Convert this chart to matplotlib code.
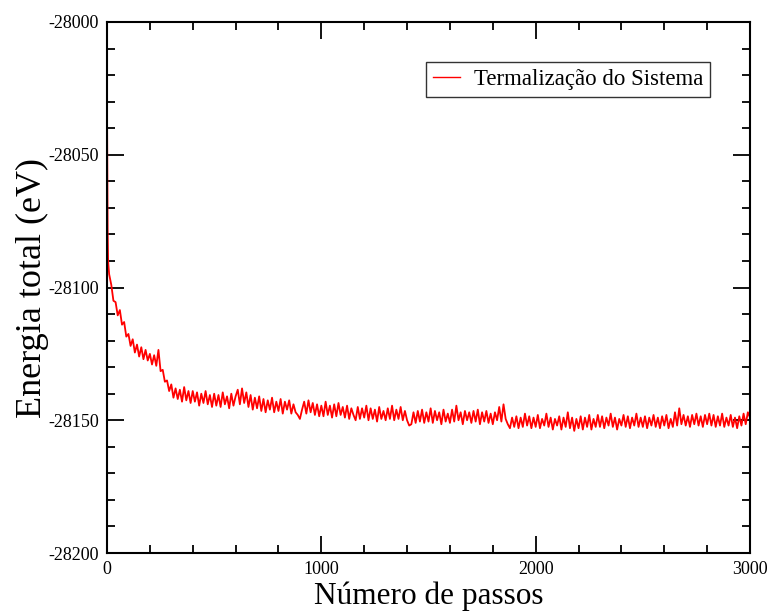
import matplotlib
matplotlib.use("Agg")
import matplotlib.pyplot as plt
import numpy as np

# ── Data ─────────────────────────────────────────────────────────────────────
# first steps: steep drop from the initial energy
passos_ini = [0, 1, 2, 3, 4, 5, 6, 8]
energia_ini = [-28032.0, -28050.0, -28066.0, -28078.0, -28085.0, -28089.0, -28091.0, -28093.0]

# afterwards one value every 10 steps (10 ... 3000)
passo_intervalo = 10
energia_resto = [
    -28095.0, -28099.0, -28105.0, -28105.5, -28110.5, -28108.5, -28114.0, -28113.0, -28118.5,
    -28117.5, -28122.0, -28119.5, -28124.5, -28121.5, -28126.0, -28122.5, -28127.0, -28123.5, -28127.5,
    -28125.0, -28129.0, -28125.5, -28129.5, -28123.5, -28131.5, -28131.0, -28135.5, -28135.0, -28139.0,
    -28136.5, -28141.5, -28138.0, -28142.0, -28138.5, -28143.0, -28137.5, -28142.5, -28139.0, -28143.5,
    -28139.0, -28143.0, -28139.5, -28144.5, -28140.0, -28143.5, -28139.0, -28144.0, -28140.5, -28145.0,
    -28140.0, -28144.5, -28140.5, -28145.0, -28139.5, -28144.0, -28141.0, -28145.5, -28140.0, -28144.5,
    -28141.0, -28138.5, -28144.0, -28138.0, -28143.5, -28139.5, -28145.0, -28140.5, -28146.0, -28141.5,
    -28145.5, -28141.0, -28146.5, -28142.0, -28147.0, -28142.5, -28146.0, -28141.5, -28147.0, -28143.0,
    -28146.5, -28142.0, -28147.5, -28143.0, -28146.0, -28142.5, -28147.5, -28144.0, -28147.0, -28148.0,
    -28149.5, -28146.0, -28143.0, -28147.5, -28142.5, -28147.0, -28143.5, -28148.0, -28144.0, -28148.5,
    -28144.5, -28148.5, -28143.0, -28148.0, -28144.5, -28149.0, -28144.0, -28148.5, -28143.5, -28148.0,
    -28145.0, -28149.0, -28144.5, -28149.5, -28145.5, -28148.0, -28150.0, -28145.0, -28149.5, -28145.5,
    -28149.0, -28144.5, -28150.0, -28145.5, -28149.5, -28146.0, -28150.5, -28145.0, -28149.5, -28146.5,
    -28150.0, -28145.5, -28149.5, -28144.5, -28150.0, -28146.0, -28149.5, -28145.0, -28150.0, -28146.5,
    -28150.0, -28152.0, -28151.5, -28147.0, -28151.0, -28146.5, -28150.5, -28146.0, -28151.0, -28147.0,
    -28150.5, -28145.5, -28151.0, -28146.5, -28150.0, -28147.0, -28151.5, -28146.0, -28150.5, -28147.5,
    -28151.0, -28146.0, -28150.5, -28144.5, -28150.0, -28147.0, -28151.5, -28146.5, -28150.0, -28147.0,
    -28151.0, -28146.5, -28150.5, -28146.0, -28151.5, -28147.0, -28150.5, -28146.5, -28151.0, -28147.5,
    -28151.5, -28147.0, -28150.0, -28145.0, -28150.5, -28144.0, -28149.5, -28151.5, -28153.0, -28149.0,
    -28152.5, -28148.5, -28153.0, -28149.0, -28152.5, -28147.5, -28152.0, -28148.5, -28153.0, -28149.0,
    -28152.5, -28148.0, -28153.0, -28149.5, -28152.0, -28147.5, -28152.5, -28149.0, -28153.5, -28149.5,
    -28152.0, -28148.5, -28153.5, -28149.0, -28152.5, -28147.0, -28153.0, -28149.0, -28154.0, -28149.5,
    -28153.0, -28148.5, -28153.5, -28149.0, -28152.5, -28148.0, -28153.5, -28149.5, -28152.5, -28148.0,
    -28152.5, -28148.5, -28153.0, -28149.0, -28152.0, -28147.5, -28152.5, -28149.0, -28153.5, -28149.5,
    -28152.0, -28148.0, -28152.5, -28148.5, -28153.0, -28149.0, -28152.0, -28147.5, -28152.5, -28149.0,
    -28152.5, -28148.5, -28153.0, -28149.0, -28152.0, -28148.0, -28152.5, -28149.0, -28153.0, -28148.5,
    -28152.0, -28148.0, -28153.0, -28149.5, -28152.5, -28147.0, -28152.0, -28145.5, -28151.5, -28148.0,
    -28152.0, -28148.5, -28152.5, -28148.0, -28151.5, -28147.5, -28152.0, -28148.5, -28152.5, -28148.0,
    -28151.5, -28147.5, -28152.0, -28148.0, -28152.5, -28148.5, -28152.0, -28147.5, -28152.5, -28149.0,
    -28152.0, -28148.0, -28152.5, -28149.0, -28153.0, -28148.5, -28152.0, -28147.5, -28151.5, -28147.0,
    -28149.0,
]

x_ticks = [0, 1000, 2000, 3000]
y_ticks = [-28200, -28150, -28100, -28050, -28000]

passos = passos_ini + [passo_intervalo * (i + 1) for i in range(len(energia_resto))]
energia = energia_ini + energia_resto

# ── Figure ───────────────────────────────────────────────────────────────────
plt.rcParams["font.family"] = ["Liberation Serif", "DejaVu Serif"]
plt.rcParams["axes.unicode_minus"] = False

fig = plt.figure(figsize=(7.71, 6.13), dpi=100)
ax = fig.add_axes([107 / 771, 60 / 613, 643 / 771, 531 / 613])

ax.plot(passos, energia, color="red", lw=1.3, label="Termalização do Sistema")

ax.set_xlim(0, 3000)
ax.set_ylim(-28200, -28000)
ax.set_xticks(x_ticks)
ax.set_yticks(y_ticks)
ax.set_xticks(np.arange(0, 3001, 200), minor=True)
ax.set_yticks(np.arange(-28200, -27999, 10), minor=True)
ax.tick_params(which="both", direction="in", top=True, right=True, width=1.3)
ax.tick_params(which="major", length=12, labelsize=13, pad=6)
ax.tick_params(which="minor", length=6)
for s in ax.spines.values():
    s.set_linewidth(1.5)

ax.set_xlabel("Número de passos", fontsize=22.5, labelpad=2)
ax.set_ylabel("Energia total (eV)", fontsize=26)
ax.yaxis.set_label_coords(-0.09, 0.5)

leg = ax.legend(loc="upper right", bbox_to_anchor=(0.938, 0.925), fontsize=16.5,
                frameon=True, fancybox=False, handlelength=1.2, handletextpad=0.6,
                borderpad=0.3, borderaxespad=0)
leg.get_frame().set_edgecolor("black")
leg.get_frame().set_linewidth(1.0)
leg.legend_handles[0].set_linewidth(1.0)

fig.savefig("out.png", dpi=100)
